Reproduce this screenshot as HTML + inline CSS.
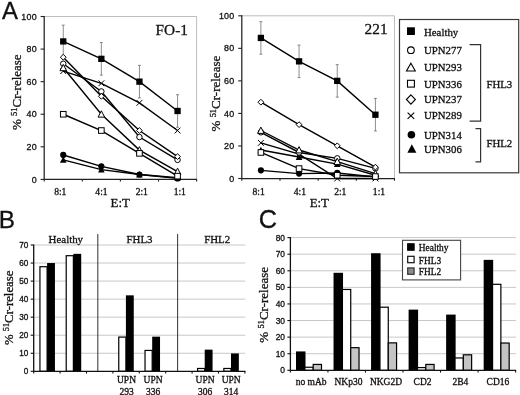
<!DOCTYPE html><html><head><meta charset="utf-8"><title>Figure</title><style>html,body{margin:0;padding:0;background:#fff}svg{display:block;filter:grayscale(1) blur(0.35px)}</style></head><body>
<svg width="520" height="395" viewBox="0 0 520 395">
<rect width="520" height="395" fill="#fff"/>
<text x="1.9" y="19" font-family='"Liberation Sans", sans-serif' font-size="23.9" fill="#111" stroke="#111" stroke-width="0.3">A</text>
<text x="-1.3" y="228.2" font-family='"Liberation Sans", sans-serif' font-size="24.3" fill="#111" stroke="#111" stroke-width="0.3">B</text>
<text x="258.7" y="228.3" font-family='"Liberation Sans", sans-serif' font-size="25.3" fill="#111" stroke="#111" stroke-width="0.3">C</text>
<path d="M44.2 16.5 H196.6 V179.4" fill="none" stroke="#bdbdbd" stroke-width="1"/>
<path d="M40.6 179.40 H44.2" stroke="#222" stroke-width="1.1"/>
<text x="37.0" y="182.55" text-anchor="end" font-family='"Liberation Sans", sans-serif' font-size="8.9" letter-spacing="0.3" fill="#111" stroke="#111" stroke-width="0.3">0</text>
<path d="M40.6 146.82 H44.2" stroke="#222" stroke-width="1.1"/>
<text x="37.0" y="149.97" text-anchor="end" font-family='"Liberation Sans", sans-serif' font-size="8.9" letter-spacing="0.3" fill="#111" stroke="#111" stroke-width="0.3">20</text>
<path d="M40.6 114.24 H44.2" stroke="#222" stroke-width="1.1"/>
<text x="37.0" y="117.39" text-anchor="end" font-family='"Liberation Sans", sans-serif' font-size="8.9" letter-spacing="0.3" fill="#111" stroke="#111" stroke-width="0.3">40</text>
<path d="M40.6 81.66 H44.2" stroke="#222" stroke-width="1.1"/>
<text x="37.0" y="84.81" text-anchor="end" font-family='"Liberation Sans", sans-serif' font-size="8.9" letter-spacing="0.3" fill="#111" stroke="#111" stroke-width="0.3">60</text>
<path d="M40.6 49.08 H44.2" stroke="#222" stroke-width="1.1"/>
<text x="37.0" y="52.23" text-anchor="end" font-family='"Liberation Sans", sans-serif' font-size="8.9" letter-spacing="0.3" fill="#111" stroke="#111" stroke-width="0.3">80</text>
<path d="M40.6 16.50 H44.2" stroke="#222" stroke-width="1.1"/>
<text x="37.0" y="19.65" text-anchor="end" font-family='"Liberation Sans", sans-serif' font-size="8.9" letter-spacing="0.3" fill="#111" stroke="#111" stroke-width="0.3">100</text>
<path d="M44.20 179.4 V181.6" stroke="#222" stroke-width="1.1"/>
<path d="M82.30 179.4 V181.6" stroke="#222" stroke-width="1.1"/>
<path d="M120.40 179.4 V181.6" stroke="#222" stroke-width="1.1"/>
<path d="M158.50 179.4 V181.6" stroke="#222" stroke-width="1.1"/>
<path d="M196.60 179.4 V181.6" stroke="#222" stroke-width="1.1"/>
<path d="M44.2 16.0 V179.4 H197.1" fill="none" stroke="#222" stroke-width="1.25"/>
<text x="60.30" y="194.7" text-anchor="middle" font-family='"Liberation Serif", serif' font-size="9.6" fill="#111" stroke="#111" stroke-width="0.3">8:1</text>
<text x="101.50" y="194.7" text-anchor="middle" font-family='"Liberation Serif", serif' font-size="9.6" fill="#111" stroke="#111" stroke-width="0.3">4:1</text>
<text x="141.80" y="194.7" text-anchor="middle" font-family='"Liberation Serif", serif' font-size="9.6" fill="#111" stroke="#111" stroke-width="0.3">2:1</text>
<text x="179.80" y="194.7" text-anchor="middle" font-family='"Liberation Serif", serif' font-size="9.6" fill="#111" stroke="#111" stroke-width="0.3">1:1</text>
<path d="M63.25 25.13 V57.71 M61.75 25.13 h3 M61.75 57.71 h3" stroke="#707070" stroke-width="0.8" fill="none"/>
<path d="M101.35 42.56 V75.14 M99.85 42.56 h3 M99.85 75.14 h3" stroke="#707070" stroke-width="0.8" fill="none"/>
<path d="M139.45 65.37 V97.95 M137.95 65.37 h3 M137.95 97.95 h3" stroke="#707070" stroke-width="0.8" fill="none"/>
<path d="M177.55 94.69 V127.27 M176.05 94.69 h3 M176.05 127.27 h3" stroke="#707070" stroke-width="0.8" fill="none"/>
<polyline points="63.25,154.97 101.35,166.37 139.45,174.51 177.55,178.42" fill="none" stroke="#000" stroke-width="1.4"/>
<circle cx="63.25" cy="154.97" r="3.10" fill="#000"/>
<circle cx="101.35" cy="166.37" r="3.10" fill="#000"/>
<circle cx="139.45" cy="174.51" r="3.10" fill="#000"/>
<circle cx="177.55" cy="178.42" r="3.10" fill="#000"/>
<polyline points="63.25,159.85 101.35,169.63 139.45,174.51 177.55,177.77" fill="none" stroke="#000" stroke-width="1.4"/>
<path d="M63.25 156.45 L66.55 162.74 L59.95 162.74 Z" fill="#000"/>
<path d="M101.35 166.23 L104.65 172.52 L98.05 172.52 Z" fill="#000"/>
<path d="M139.45 171.11 L142.75 177.40 L136.15 177.40 Z" fill="#000"/>
<path d="M177.55 174.37 L180.85 180.66 L174.25 180.66 Z" fill="#000"/>
<polyline points="63.25,71.07 101.35,83.29 139.45,102.84 177.55,130.53" fill="none" stroke="#000" stroke-width="1.4"/>
<path d="M60.35 68.17 L66.15 73.97 M60.35 73.97 L66.15 68.17" fill="none" stroke="#000" stroke-width="1.0"/>
<path d="M98.45 80.39 L104.25 86.19 M98.45 86.19 L104.25 80.39" fill="none" stroke="#000" stroke-width="1.0"/>
<path d="M136.55 99.94 L142.35 105.74 M136.55 105.74 L142.35 99.94" fill="none" stroke="#000" stroke-width="1.0"/>
<path d="M174.65 127.63 L180.45 133.43 M174.65 133.43 L180.45 127.63" fill="none" stroke="#000" stroke-width="1.0"/>
<polyline points="63.25,63.74 101.35,91.43 139.45,137.05 177.55,159.85" fill="none" stroke="#000" stroke-width="1.4"/>
<circle cx="63.25" cy="63.74" r="2.75" fill="#fff" stroke="#000" stroke-width="1.0"/>
<circle cx="101.35" cy="91.43" r="2.75" fill="#fff" stroke="#000" stroke-width="1.0"/>
<circle cx="139.45" cy="137.05" r="2.75" fill="#fff" stroke="#000" stroke-width="1.0"/>
<circle cx="177.55" cy="159.85" r="2.75" fill="#fff" stroke="#000" stroke-width="1.0"/>
<polyline points="63.25,67.81 101.35,114.24 139.45,150.08 177.55,171.58" fill="none" stroke="#000" stroke-width="1.4"/>
<path d="M63.25 64.41 L66.55 70.70 L59.95 70.70 Z" fill="#fff" stroke="#000" stroke-width="1.0" stroke-linejoin="miter"/>
<path d="M101.35 110.84 L104.65 117.13 L98.05 117.13 Z" fill="#fff" stroke="#000" stroke-width="1.0" stroke-linejoin="miter"/>
<path d="M139.45 146.68 L142.75 152.97 L136.15 152.97 Z" fill="#fff" stroke="#000" stroke-width="1.0" stroke-linejoin="miter"/>
<path d="M177.55 168.18 L180.85 174.47 L174.25 174.47 Z" fill="#fff" stroke="#000" stroke-width="1.0" stroke-linejoin="miter"/>
<polyline points="63.25,114.24 101.35,130.53 139.45,153.34 177.55,176.14" fill="none" stroke="#000" stroke-width="1.4"/>
<rect x="60.45" y="111.44" width="5.60" height="5.60" fill="#fff" stroke="#000" stroke-width="1.0"/>
<rect x="98.55" y="127.73" width="5.60" height="5.60" fill="#fff" stroke="#000" stroke-width="1.0"/>
<rect x="136.65" y="150.54" width="5.60" height="5.60" fill="#fff" stroke="#000" stroke-width="1.0"/>
<rect x="174.75" y="173.34" width="5.60" height="5.60" fill="#fff" stroke="#000" stroke-width="1.0"/>
<polyline points="63.25,57.23 101.35,96.32 139.45,130.53 177.55,156.59" fill="none" stroke="#000" stroke-width="1.4"/>
<path d="M63.25 54.33 L66.15 57.23 L63.25 60.13 L60.35 57.23 Z" fill="#fff" stroke="#000" stroke-width="1.0"/>
<path d="M101.35 93.42 L104.25 96.32 L101.35 99.22 L98.45 96.32 Z" fill="#fff" stroke="#000" stroke-width="1.0"/>
<path d="M139.45 127.63 L142.35 130.53 L139.45 133.43 L136.55 130.53 Z" fill="#fff" stroke="#000" stroke-width="1.0"/>
<path d="M177.55 153.69 L180.45 156.59 L177.55 159.49 L174.65 156.59 Z" fill="#fff" stroke="#000" stroke-width="1.0"/>
<polyline points="63.25,41.42 101.35,58.85 139.45,81.66 177.55,110.98" fill="none" stroke="#000" stroke-width="1.4"/>
<rect x="60.10" y="38.27" width="6.30" height="6.30" fill="#000"/>
<rect x="98.20" y="55.70" width="6.30" height="6.30" fill="#000"/>
<rect x="136.30" y="78.51" width="6.30" height="6.30" fill="#000"/>
<rect x="174.40" y="107.83" width="6.30" height="6.30" fill="#000"/>
<text x="155.6" y="35.3" font-family='"Liberation Serif", serif' font-size="15.3" fill="#111" stroke="#111" stroke-width="0.3">FO-1</text>
<text transform="translate(21.2,92.2) rotate(-90)" text-anchor="middle" font-family='"Liberation Serif", serif' font-size="13.0" fill="#111" stroke="#111" stroke-width="0.3">% <tspan font-size="8.45" dy="-4.29">51</tspan><tspan dy="4.29">Cr-release</tspan></text>
<text x="120.2" y="207.2" text-anchor="middle" font-family='"Liberation Serif", serif' font-size="12.9" fill="#111" stroke="#111" stroke-width="0.3">E:T</text>
<path d="M241.8 15.8 H394.5 V178.5" fill="none" stroke="#bdbdbd" stroke-width="1"/>
<path d="M238.20000000000002 178.50 H241.8" stroke="#222" stroke-width="1.1"/>
<text x="234.60000000000002" y="181.65" text-anchor="end" font-family='"Liberation Sans", sans-serif' font-size="8.9" letter-spacing="0.3" fill="#111" stroke="#111" stroke-width="0.3">0</text>
<path d="M238.20000000000002 145.96 H241.8" stroke="#222" stroke-width="1.1"/>
<text x="234.60000000000002" y="149.11" text-anchor="end" font-family='"Liberation Sans", sans-serif' font-size="8.9" letter-spacing="0.3" fill="#111" stroke="#111" stroke-width="0.3">20</text>
<path d="M238.20000000000002 113.42 H241.8" stroke="#222" stroke-width="1.1"/>
<text x="234.60000000000002" y="116.57" text-anchor="end" font-family='"Liberation Sans", sans-serif' font-size="8.9" letter-spacing="0.3" fill="#111" stroke="#111" stroke-width="0.3">40</text>
<path d="M238.20000000000002 80.88 H241.8" stroke="#222" stroke-width="1.1"/>
<text x="234.60000000000002" y="84.03" text-anchor="end" font-family='"Liberation Sans", sans-serif' font-size="8.9" letter-spacing="0.3" fill="#111" stroke="#111" stroke-width="0.3">60</text>
<path d="M238.20000000000002 48.34 H241.8" stroke="#222" stroke-width="1.1"/>
<text x="234.60000000000002" y="51.49" text-anchor="end" font-family='"Liberation Sans", sans-serif' font-size="8.9" letter-spacing="0.3" fill="#111" stroke="#111" stroke-width="0.3">80</text>
<path d="M238.20000000000002 15.80 H241.8" stroke="#222" stroke-width="1.1"/>
<text x="234.60000000000002" y="18.95" text-anchor="end" font-family='"Liberation Sans", sans-serif' font-size="8.9" letter-spacing="0.3" fill="#111" stroke="#111" stroke-width="0.3">100</text>
<path d="M241.80 178.5 V180.7" stroke="#222" stroke-width="1.1"/>
<path d="M279.98 178.5 V180.7" stroke="#222" stroke-width="1.1"/>
<path d="M318.15 178.5 V180.7" stroke="#222" stroke-width="1.1"/>
<path d="M356.32 178.5 V180.7" stroke="#222" stroke-width="1.1"/>
<path d="M394.50 178.5 V180.7" stroke="#222" stroke-width="1.1"/>
<path d="M241.8 15.3 V178.5 H395.0" fill="none" stroke="#222" stroke-width="1.25"/>
<text x="258.60" y="194.7" text-anchor="middle" font-family='"Liberation Serif", serif' font-size="9.6" fill="#111" stroke="#111" stroke-width="0.3">8:1</text>
<text x="299.90" y="194.7" text-anchor="middle" font-family='"Liberation Serif", serif' font-size="9.6" fill="#111" stroke="#111" stroke-width="0.3">4:1</text>
<text x="340.30" y="194.7" text-anchor="middle" font-family='"Liberation Serif", serif' font-size="9.6" fill="#111" stroke="#111" stroke-width="0.3">2:1</text>
<text x="379.00" y="194.7" text-anchor="middle" font-family='"Liberation Serif", serif' font-size="9.6" fill="#111" stroke="#111" stroke-width="0.3">1:1</text>
<path d="M260.89 21.66 V54.20 M259.39 21.66 h3 M259.39 54.20 h3" stroke="#707070" stroke-width="0.8" fill="none"/>
<path d="M299.06 45.09 V77.63 M297.56 45.09 h3 M297.56 77.63 h3" stroke="#707070" stroke-width="0.8" fill="none"/>
<path d="M337.24 64.61 V97.15 M335.74 64.61 h3 M335.74 97.15 h3" stroke="#707070" stroke-width="0.8" fill="none"/>
<path d="M375.41 98.45 V130.99 M373.91 98.45 h3 M373.91 130.99 h3" stroke="#707070" stroke-width="0.8" fill="none"/>
<polyline points="260.89,170.37 299.06,173.62 337.24,172.97 375.41,176.87" fill="none" stroke="#000" stroke-width="1.4"/>
<circle cx="260.89" cy="170.37" r="3.10" fill="#000"/>
<circle cx="299.06" cy="173.62" r="3.10" fill="#000"/>
<circle cx="337.24" cy="172.97" r="3.10" fill="#000"/>
<circle cx="375.41" cy="176.87" r="3.10" fill="#000"/>
<polyline points="260.89,150.03 299.06,157.02 337.24,164.18 375.41,175.25" fill="none" stroke="#000" stroke-width="1.4"/>
<path d="M260.89 146.63 L264.19 152.92 L257.59 152.92 Z" fill="#000"/>
<path d="M299.06 153.62 L302.36 159.91 L295.76 159.91 Z" fill="#000"/>
<path d="M337.24 160.78 L340.54 167.07 L333.94 167.07 Z" fill="#000"/>
<path d="M375.41 171.85 L378.71 178.14 L372.11 178.14 Z" fill="#000"/>
<polyline points="260.89,142.87 299.06,154.09 337.24,178.50 375.41,178.50" fill="none" stroke="#000" stroke-width="1.4"/>
<path d="M257.99 139.97 L263.79 145.77 M257.99 145.77 L263.79 139.97" fill="none" stroke="#000" stroke-width="1.0"/>
<path d="M296.16 151.19 L301.96 157.00 M296.16 157.00 L301.96 151.19" fill="none" stroke="#000" stroke-width="1.0"/>
<path d="M334.34 175.60 L340.14 181.40 M334.34 181.40 L340.14 175.60" fill="none" stroke="#000" stroke-width="1.0"/>
<path d="M372.51 175.60 L378.31 181.40 M372.51 181.40 L378.31 175.60" fill="none" stroke="#000" stroke-width="1.0"/>
<polyline points="260.89,132.29 299.06,152.47 337.24,158.33 375.41,168.41" fill="none" stroke="#000" stroke-width="1.4"/>
<circle cx="260.89" cy="132.29" r="2.75" fill="#fff" stroke="#000" stroke-width="1.0"/>
<circle cx="299.06" cy="152.47" r="2.75" fill="#fff" stroke="#000" stroke-width="1.0"/>
<circle cx="337.24" cy="158.33" r="2.75" fill="#fff" stroke="#000" stroke-width="1.0"/>
<circle cx="375.41" cy="168.41" r="2.75" fill="#fff" stroke="#000" stroke-width="1.0"/>
<polyline points="260.89,130.50 299.06,150.03 337.24,161.58 375.41,173.62" fill="none" stroke="#000" stroke-width="1.4"/>
<path d="M260.89 127.10 L264.19 133.39 L257.59 133.39 Z" fill="#fff" stroke="#000" stroke-width="1.0" stroke-linejoin="miter"/>
<path d="M299.06 146.63 L302.36 152.92 L295.76 152.92 Z" fill="#fff" stroke="#000" stroke-width="1.0" stroke-linejoin="miter"/>
<path d="M337.24 158.18 L340.54 164.47 L333.94 164.47 Z" fill="#fff" stroke="#000" stroke-width="1.0" stroke-linejoin="miter"/>
<path d="M375.41 170.22 L378.71 176.51 L372.11 176.51 Z" fill="#fff" stroke="#000" stroke-width="1.0" stroke-linejoin="miter"/>
<polyline points="260.89,152.47 299.06,168.58 337.24,175.25 375.41,176.55" fill="none" stroke="#000" stroke-width="1.4"/>
<rect x="258.09" y="149.67" width="5.60" height="5.60" fill="#fff" stroke="#000" stroke-width="1.0"/>
<rect x="296.26" y="165.78" width="5.60" height="5.60" fill="#fff" stroke="#000" stroke-width="1.0"/>
<rect x="334.44" y="172.45" width="5.60" height="5.60" fill="#fff" stroke="#000" stroke-width="1.0"/>
<rect x="372.61" y="173.75" width="5.60" height="5.60" fill="#fff" stroke="#000" stroke-width="1.0"/>
<polyline points="260.89,102.19 299.06,124.65 337.24,145.80 375.41,167.11" fill="none" stroke="#000" stroke-width="1.4"/>
<path d="M260.89 99.29 L263.79 102.19 L260.89 105.09 L257.99 102.19 Z" fill="#fff" stroke="#000" stroke-width="1.0"/>
<path d="M299.06 121.75 L301.96 124.65 L299.06 127.55 L296.16 124.65 Z" fill="#fff" stroke="#000" stroke-width="1.0"/>
<path d="M337.24 142.90 L340.14 145.80 L337.24 148.70 L334.34 145.80 Z" fill="#fff" stroke="#000" stroke-width="1.0"/>
<path d="M375.41 164.21 L378.31 167.11 L375.41 170.01 L372.51 167.11 Z" fill="#fff" stroke="#000" stroke-width="1.0"/>
<polyline points="260.89,37.93 299.06,61.36 337.24,80.88 375.41,114.72" fill="none" stroke="#000" stroke-width="1.4"/>
<rect x="257.74" y="34.78" width="6.30" height="6.30" fill="#000"/>
<rect x="295.91" y="58.21" width="6.30" height="6.30" fill="#000"/>
<rect x="334.09" y="77.73" width="6.30" height="6.30" fill="#000"/>
<rect x="372.26" y="111.57" width="6.30" height="6.30" fill="#000"/>
<text x="364.6" y="33.8" font-family='"Liberation Serif", serif' font-size="15.3" fill="#111" stroke="#111" stroke-width="0.3">221</text>
<text transform="translate(219.8,93.6) rotate(-90)" text-anchor="middle" font-family='"Liberation Serif", serif' font-size="13.0" fill="#111" stroke="#111" stroke-width="0.3">% <tspan font-size="8.45" dy="-4.29">51</tspan><tspan dy="4.29">Cr-release</tspan></text>
<text x="319.3" y="207.2" text-anchor="middle" font-family='"Liberation Serif", serif' font-size="12.9" fill="#111" stroke="#111" stroke-width="0.3">E:T</text>
<rect x="399.5" y="19.5" width="119.2" height="153.3" fill="#fff" stroke="#3a3a3a" stroke-width="1.2"/>
<rect x="407" y="27.3" width="7.9" height="7.7" fill="#000"/>
<text x="424.0" y="35.5" font-family='"Liberation Serif", serif' font-size="10.8" fill="#111" stroke="#111" stroke-width="0.3">Healthy</text>
<circle cx="410.9" cy="50.2" r="3.35" fill="#fff" stroke="#000" stroke-width="1.1"/>
<text x="424.0" y="53.6" font-family='"Liberation Serif", serif' font-size="10.8" fill="#111" stroke="#111" stroke-width="0.3">UPN277</text>
<path d="M410.9 63.2 L415.3 71 L406.5 71 Z" fill="#fff" stroke="#000" stroke-width="1.1"/>
<text x="424.0" y="70.8" font-family='"Liberation Serif", serif' font-size="10.8" fill="#111" stroke="#111" stroke-width="0.3">UPN293</text>
<rect x="407.5" y="80.3" width="6.9" height="6.8" fill="#fff" stroke="#000" stroke-width="1.1"/>
<text x="424.0" y="87.7" font-family='"Liberation Serif", serif' font-size="10.8" fill="#111" stroke="#111" stroke-width="0.3">UPN336</text>
<path d="M410.9 94.9 L415.4 99.5 L410.9 104.1 L406.4 99.5 Z" fill="#fff" stroke="#000" stroke-width="1.1"/>
<text x="424.0" y="103.3" font-family='"Liberation Serif", serif' font-size="10.8" fill="#111" stroke="#111" stroke-width="0.3">UPN237</text>
<path d="M407.6 112.6 L414.2 118.8 M407.6 118.8 L414.2 112.6" fill="none" stroke="#000" stroke-width="1.1"/>
<text x="424.0" y="119.1" font-family='"Liberation Serif", serif' font-size="10.8" fill="#111" stroke="#111" stroke-width="0.3">UPN289</text>
<circle cx="411.4" cy="134.7" r="3.8" fill="#000"/>
<text x="424.0" y="138.5" font-family='"Liberation Serif", serif' font-size="10.8" fill="#111" stroke="#111" stroke-width="0.3">UPN314</text>
<path d="M411.8 144.2 L416.4 152.7 L407.4 152.7 Z" fill="#000"/>
<text x="424.0" y="152.6" font-family='"Liberation Serif", serif' font-size="10.8" fill="#111" stroke="#111" stroke-width="0.3">UPN306</text>
<path d="M469.6 44.7 H480.6 V121.1 H469.6" fill="none" stroke="#333" stroke-width="1.2"/>
<path d="M475.5 128.7 H480.6 V161.8 H475.5" fill="none" stroke="#333" stroke-width="1.2"/>
<text x="486.4" y="87.8" font-family='"Liberation Serif", serif' font-size="10.8" fill="#111" stroke="#111" stroke-width="0.3">FHL3</text>
<text x="486.4" y="146.7" font-family='"Liberation Serif", serif' font-size="10.8" fill="#111" stroke="#111" stroke-width="0.3">FHL2</text>
<path d="M33.7 353.26 H245.3" stroke="#c8c8c8" stroke-width="1.0"/>
<path d="M33.7 335.21 H245.3" stroke="#c8c8c8" stroke-width="1.0"/>
<path d="M33.7 317.17 H245.3" stroke="#c8c8c8" stroke-width="1.0"/>
<path d="M33.7 299.13 H245.3" stroke="#c8c8c8" stroke-width="1.0"/>
<path d="M33.7 281.09 H245.3" stroke="#c8c8c8" stroke-width="1.0"/>
<path d="M33.7 263.04 H245.3" stroke="#c8c8c8" stroke-width="1.0"/>
<path d="M33.7 245.00 H245.3" stroke="#c8c8c8" stroke-width="1.0"/>
<path d="M97.8 233.9 V371.3 M177.6 233.9 V371.3" stroke="#3c3c3c" stroke-width="1.05"/>
<path d="M30.700000000000003 371.30 H33.7" stroke="#111" stroke-width="1.1"/>
<text x="28.400000000000002" y="374.25" text-anchor="end" font-family='"Liberation Sans", sans-serif' font-size="8.2" fill="#111" stroke="#111" stroke-width="0.3">0</text>
<path d="M30.700000000000003 353.26 H33.7" stroke="#111" stroke-width="1.1"/>
<text x="28.400000000000002" y="356.21" text-anchor="end" font-family='"Liberation Sans", sans-serif' font-size="8.2" fill="#111" stroke="#111" stroke-width="0.3">10</text>
<path d="M30.700000000000003 335.21 H33.7" stroke="#111" stroke-width="1.1"/>
<text x="28.400000000000002" y="338.16" text-anchor="end" font-family='"Liberation Sans", sans-serif' font-size="8.2" fill="#111" stroke="#111" stroke-width="0.3">20</text>
<path d="M30.700000000000003 317.17 H33.7" stroke="#111" stroke-width="1.1"/>
<text x="28.400000000000002" y="320.12" text-anchor="end" font-family='"Liberation Sans", sans-serif' font-size="8.2" fill="#111" stroke="#111" stroke-width="0.3">30</text>
<path d="M30.700000000000003 299.13 H33.7" stroke="#111" stroke-width="1.1"/>
<text x="28.400000000000002" y="302.08" text-anchor="end" font-family='"Liberation Sans", sans-serif' font-size="8.2" fill="#111" stroke="#111" stroke-width="0.3">40</text>
<path d="M30.700000000000003 281.09 H33.7" stroke="#111" stroke-width="1.1"/>
<text x="28.400000000000002" y="284.04" text-anchor="end" font-family='"Liberation Sans", sans-serif' font-size="8.2" fill="#111" stroke="#111" stroke-width="0.3">50</text>
<path d="M30.700000000000003 263.04 H33.7" stroke="#111" stroke-width="1.1"/>
<text x="28.400000000000002" y="265.99" text-anchor="end" font-family='"Liberation Sans", sans-serif' font-size="8.2" fill="#111" stroke="#111" stroke-width="0.3">60</text>
<path d="M30.700000000000003 245.00 H33.7" stroke="#111" stroke-width="1.1"/>
<text x="28.400000000000002" y="247.95" text-anchor="end" font-family='"Liberation Sans", sans-serif' font-size="8.2" fill="#111" stroke="#111" stroke-width="0.3">70</text>
<path d="M33.70 371.3 v2.3" stroke="#111" stroke-width="1.1"/>
<path d="M60.10 371.3 v2.3" stroke="#111" stroke-width="1.1"/>
<path d="M86.50 371.3 v2.3" stroke="#111" stroke-width="1.1"/>
<path d="M112.90 371.3 v2.3" stroke="#111" stroke-width="1.1"/>
<path d="M139.30 371.3 v2.3" stroke="#111" stroke-width="1.1"/>
<path d="M165.70 371.3 v2.3" stroke="#111" stroke-width="1.1"/>
<path d="M192.10 371.3 v2.3" stroke="#111" stroke-width="1.1"/>
<path d="M218.50 371.3 v2.3" stroke="#111" stroke-width="1.1"/>
<path d="M244.90 371.3 v2.3" stroke="#111" stroke-width="1.1"/>
<rect x="39.95" y="266.71" width="7.15" height="104.59" fill="#fff" stroke="#000" stroke-width="1.2"/>
<rect x="47.10" y="263.04" width="7.85" height="108.26" fill="#000"/>
<rect x="66.22" y="255.70" width="7.15" height="115.60" fill="#fff" stroke="#000" stroke-width="1.2"/>
<rect x="73.37" y="253.84" width="7.85" height="117.46" fill="#000"/>
<rect x="118.76" y="337.08" width="7.15" height="34.22" fill="#fff" stroke="#000" stroke-width="1.2"/>
<rect x="125.91" y="295.34" width="7.85" height="75.96" fill="#000"/>
<rect x="145.03" y="350.43" width="7.15" height="20.87" fill="#fff" stroke="#000" stroke-width="1.2"/>
<rect x="152.18" y="336.66" width="7.85" height="34.64" fill="#000"/>
<rect x="197.57" y="368.47" width="7.15" height="2.83" fill="#fff" stroke="#000" stroke-width="1.2"/>
<rect x="204.72" y="349.65" width="7.85" height="21.65" fill="#000"/>
<rect x="223.84" y="368.47" width="7.15" height="2.83" fill="#fff" stroke="#000" stroke-width="1.2"/>
<rect x="230.99" y="353.44" width="7.85" height="17.86" fill="#000"/>
<path d="M33.7 244.5 V371.3 H245.4" fill="none" stroke="#111" stroke-width="1.3"/>
<text x="48.6" y="242.5" font-family='"Liberation Serif", serif' font-size="10.9" fill="#111" stroke="#111" stroke-width="0.3">Healthy</text>
<text x="126.5" y="242.5" font-family='"Liberation Serif", serif' font-size="10.9" fill="#111" stroke="#111" stroke-width="0.3">FHL3</text>
<text x="204.2" y="242.5" font-family='"Liberation Serif", serif' font-size="10.9" fill="#111" stroke="#111" stroke-width="0.3">FHL2</text>
<text x="126.50" y="383.3" text-anchor="middle" font-family='"Liberation Serif", serif' font-size="9.5" fill="#111" stroke="#111" stroke-width="0.3">UPN</text>
<text x="126.50" y="394.8" text-anchor="middle" font-family='"Liberation Serif", serif' font-size="9.5" fill="#111" stroke="#111" stroke-width="0.3">293</text>
<text x="153.10" y="383.3" text-anchor="middle" font-family='"Liberation Serif", serif' font-size="9.5" fill="#111" stroke="#111" stroke-width="0.3">UPN</text>
<text x="153.10" y="394.8" text-anchor="middle" font-family='"Liberation Serif", serif' font-size="9.5" fill="#111" stroke="#111" stroke-width="0.3">336</text>
<text x="205.10" y="383.3" text-anchor="middle" font-family='"Liberation Serif", serif' font-size="9.5" fill="#111" stroke="#111" stroke-width="0.3">UPN</text>
<text x="205.10" y="394.8" text-anchor="middle" font-family='"Liberation Serif", serif' font-size="9.5" fill="#111" stroke="#111" stroke-width="0.3">306</text>
<text x="231.20" y="383.3" text-anchor="middle" font-family='"Liberation Serif", serif' font-size="9.5" fill="#111" stroke="#111" stroke-width="0.3">UPN</text>
<text x="231.20" y="394.8" text-anchor="middle" font-family='"Liberation Serif", serif' font-size="9.5" fill="#111" stroke="#111" stroke-width="0.3">314</text>
<text transform="translate(13.1,307.8) rotate(-90)" text-anchor="middle" font-family='"Liberation Serif", serif' font-size="12.8" fill="#111" stroke="#111" stroke-width="0.3">% <tspan font-size="8.32" dy="-4.22">51</tspan><tspan dy="4.22">Cr-release</tspan></text>
<path d="M290.4 353.71 H516.0" stroke="#c8c8c8" stroke-width="1.0"/>
<path d="M290.4 337.12 H516.0" stroke="#c8c8c8" stroke-width="1.0"/>
<path d="M290.4 320.54 H516.0" stroke="#c8c8c8" stroke-width="1.0"/>
<path d="M290.4 303.95 H516.0" stroke="#c8c8c8" stroke-width="1.0"/>
<path d="M290.4 287.36 H516.0" stroke="#c8c8c8" stroke-width="1.0"/>
<path d="M290.4 270.77 H516.0" stroke="#c8c8c8" stroke-width="1.0"/>
<path d="M290.4 254.19 H516.0" stroke="#c8c8c8" stroke-width="1.0"/>
<path d="M290.4 237.60 H516.0" stroke="#c8c8c8" stroke-width="1.0"/>
<path d="M287.4 370.30 H290.4" stroke="#111" stroke-width="1.1"/>
<text x="285.0" y="373.30" text-anchor="end" font-family='"Liberation Sans", sans-serif' font-size="8.4" fill="#111" stroke="#111" stroke-width="0.3">0</text>
<path d="M287.4 353.71 H290.4" stroke="#111" stroke-width="1.1"/>
<text x="285.0" y="356.71" text-anchor="end" font-family='"Liberation Sans", sans-serif' font-size="8.4" fill="#111" stroke="#111" stroke-width="0.3">10</text>
<path d="M287.4 337.12 H290.4" stroke="#111" stroke-width="1.1"/>
<text x="285.0" y="340.12" text-anchor="end" font-family='"Liberation Sans", sans-serif' font-size="8.4" fill="#111" stroke="#111" stroke-width="0.3">20</text>
<path d="M287.4 320.54 H290.4" stroke="#111" stroke-width="1.1"/>
<text x="285.0" y="323.54" text-anchor="end" font-family='"Liberation Sans", sans-serif' font-size="8.4" fill="#111" stroke="#111" stroke-width="0.3">30</text>
<path d="M287.4 303.95 H290.4" stroke="#111" stroke-width="1.1"/>
<text x="285.0" y="306.95" text-anchor="end" font-family='"Liberation Sans", sans-serif' font-size="8.4" fill="#111" stroke="#111" stroke-width="0.3">40</text>
<path d="M287.4 287.36 H290.4" stroke="#111" stroke-width="1.1"/>
<text x="285.0" y="290.36" text-anchor="end" font-family='"Liberation Sans", sans-serif' font-size="8.4" fill="#111" stroke="#111" stroke-width="0.3">50</text>
<path d="M287.4 270.77 H290.4" stroke="#111" stroke-width="1.1"/>
<text x="285.0" y="273.77" text-anchor="end" font-family='"Liberation Sans", sans-serif' font-size="8.4" fill="#111" stroke="#111" stroke-width="0.3">60</text>
<path d="M287.4 254.19 H290.4" stroke="#111" stroke-width="1.1"/>
<text x="285.0" y="257.19" text-anchor="end" font-family='"Liberation Sans", sans-serif' font-size="8.4" fill="#111" stroke="#111" stroke-width="0.3">70</text>
<path d="M287.4 237.60 H290.4" stroke="#111" stroke-width="1.1"/>
<text x="285.0" y="240.60" text-anchor="end" font-family='"Liberation Sans", sans-serif' font-size="8.4" fill="#111" stroke="#111" stroke-width="0.3">80</text>
<path d="M290.40 370.3 v2.3" stroke="#111" stroke-width="1.1"/>
<path d="M327.93 370.3 v2.3" stroke="#111" stroke-width="1.1"/>
<path d="M365.47 370.3 v2.3" stroke="#111" stroke-width="1.1"/>
<path d="M403.00 370.3 v2.3" stroke="#111" stroke-width="1.1"/>
<path d="M440.53 370.3 v2.3" stroke="#111" stroke-width="1.1"/>
<path d="M478.07 370.3 v2.3" stroke="#111" stroke-width="1.1"/>
<path d="M515.60 370.3 v2.3" stroke="#111" stroke-width="1.1"/>
<rect x="296.00" y="351.42" width="9.50" height="18.88" fill="#000"/>
<rect x="304.90" y="367.25" width="8.30" height="3.05" fill="#fff" stroke="#000" stroke-width="1.2"/>
<rect x="313.20" y="364.43" width="8.30" height="5.87" fill="#c4c4c4" stroke="#000" stroke-width="1.2"/>
<text x="311.10" y="384.6" text-anchor="middle" font-family='"Liberation Serif", serif' font-size="9.5" fill="#111" stroke="#111" stroke-width="0.3">no mAb</text>
<rect x="333.53" y="272.80" width="9.50" height="97.50" fill="#000"/>
<rect x="342.43" y="289.46" width="8.30" height="80.84" fill="#fff" stroke="#000" stroke-width="1.2"/>
<rect x="350.73" y="347.68" width="8.30" height="22.62" fill="#c4c4c4" stroke="#000" stroke-width="1.2"/>
<text x="348.40" y="384.6" text-anchor="middle" font-family='"Liberation Serif", serif' font-size="9.5" fill="#111" stroke="#111" stroke-width="0.3">NKp30</text>
<rect x="371.07" y="253.22" width="9.50" height="117.08" fill="#000"/>
<rect x="379.97" y="307.20" width="8.30" height="63.10" fill="#fff" stroke="#000" stroke-width="1.2"/>
<rect x="388.27" y="342.87" width="8.30" height="27.43" fill="#c4c4c4" stroke="#000" stroke-width="1.2"/>
<text x="386.00" y="384.6" text-anchor="middle" font-family='"Liberation Serif", serif' font-size="9.5" fill="#111" stroke="#111" stroke-width="0.3">NKG2D</text>
<rect x="408.60" y="309.62" width="9.50" height="60.68" fill="#000"/>
<rect x="417.50" y="367.58" width="8.30" height="2.72" fill="#fff" stroke="#000" stroke-width="1.2"/>
<rect x="425.80" y="364.43" width="8.30" height="5.87" fill="#c4c4c4" stroke="#000" stroke-width="1.2"/>
<text x="422.60" y="384.6" text-anchor="middle" font-family='"Liberation Serif", serif' font-size="9.5" fill="#111" stroke="#111" stroke-width="0.3">CD2</text>
<rect x="446.13" y="314.60" width="9.50" height="55.70" fill="#000"/>
<rect x="455.03" y="357.96" width="8.30" height="12.34" fill="#fff" stroke="#000" stroke-width="1.2"/>
<rect x="463.33" y="354.81" width="8.30" height="15.49" fill="#c4c4c4" stroke="#000" stroke-width="1.2"/>
<text x="460.40" y="384.6" text-anchor="middle" font-family='"Liberation Serif", serif' font-size="9.5" fill="#111" stroke="#111" stroke-width="0.3">2B4</text>
<rect x="483.67" y="259.86" width="9.50" height="110.44" fill="#000"/>
<rect x="492.57" y="284.31" width="8.30" height="85.99" fill="#fff" stroke="#000" stroke-width="1.2"/>
<rect x="500.87" y="343.03" width="8.30" height="27.27" fill="#c4c4c4" stroke="#000" stroke-width="1.2"/>
<text x="497.90" y="384.6" text-anchor="middle" font-family='"Liberation Serif", serif' font-size="9.5" fill="#111" stroke="#111" stroke-width="0.3">CD16</text>
<path d="M290.4 237.1 V370.3 H516.1" fill="none" stroke="#111" stroke-width="1.3"/>
<text transform="translate(268.0,304.8) rotate(-90)" text-anchor="middle" font-family='"Liberation Serif", serif' font-size="13.0" fill="#111" stroke="#111" stroke-width="0.3">% <tspan font-size="8.45" dy="-4.29">51</tspan><tspan dy="4.29">Cr-release</tspan></text>
<rect x="402.5" y="240.3" width="58.1" height="39.6" fill="#fff" stroke="#444" stroke-width="1.1"/>
<rect x="407.7" y="243.80" width="6.4" height="6.4" fill="#000" stroke="#000" stroke-width="1.2"/>
<text x="418.8" y="250.8" font-family='"Liberation Serif", serif' font-size="9.4" fill="#111" stroke="#111" stroke-width="0.3">Healthy</text>
<rect x="407.7" y="256.30" width="6.4" height="6.4" fill="#fff" stroke="#111" stroke-width="1.2"/>
<text x="418.8" y="263.5" font-family='"Liberation Serif", serif' font-size="9.4" fill="#111" stroke="#111" stroke-width="0.3">FHL3</text>
<rect x="407.7" y="267.90" width="6.4" height="6.4" fill="#8c8c8c" stroke="#333" stroke-width="1.2"/>
<text x="418.8" y="274.7" font-family='"Liberation Serif", serif' font-size="9.4" fill="#111" stroke="#111" stroke-width="0.3">FHL2</text>
</svg></body></html>
